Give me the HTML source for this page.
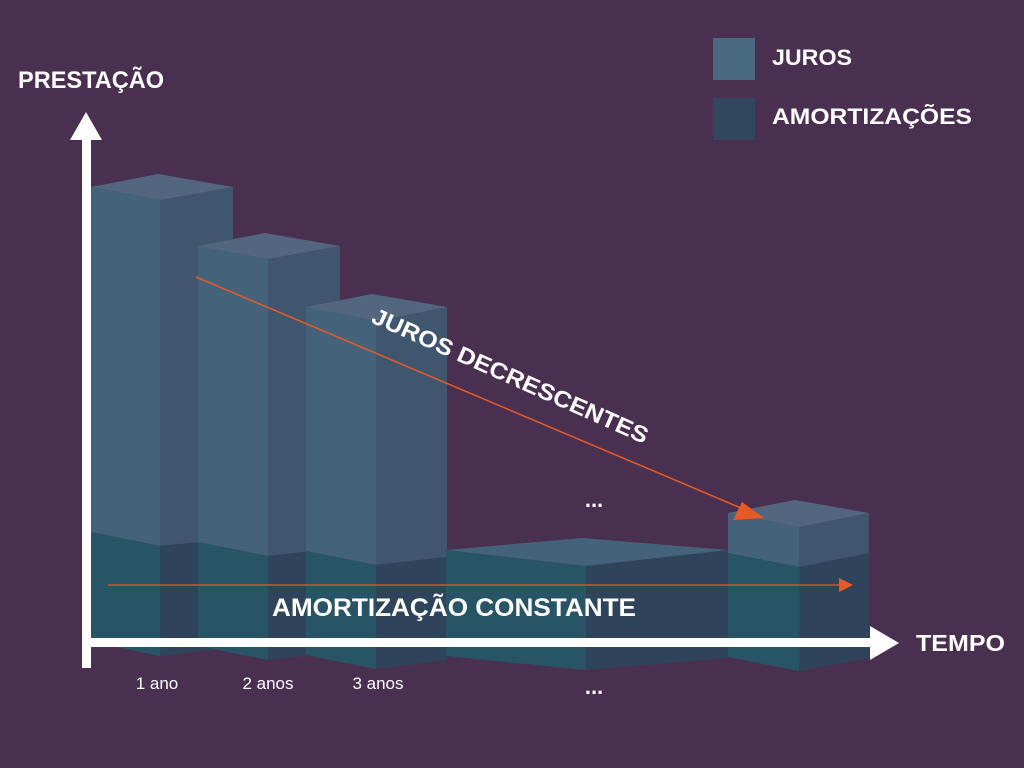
<!DOCTYPE html>
<html><head><meta charset="utf-8"><style>
html,body{margin:0;padding:0;background:#4a3050;}
svg{display:block;}
text{font-family:"Liberation Sans",sans-serif;fill:#fff;}
</style></head><body>
<svg width="1024" height="768" viewBox="0 0 1024 768" xmlns="http://www.w3.org/2000/svg">
<rect width="1024" height="768" fill="#4a3050"/>
<g>
<polygon points="91,187 160,200 160,546 91,532" fill="#44627a"/>
<polygon points="160,200 233,187 233,539 160,546" fill="#40566e"/>
<polygon points="91,187 158,174 233,187 160,200" fill="#526680"/>
<polygon points="91,532 160,546 160,656 91,642" fill="#285565"/>
<polygon points="160,546 233,539 233,648 160,656" fill="#2f445a"/>
</g>
<g>
<polygon points="198,246 268,259 268,556 198,542" fill="#44627a"/>
<polygon points="268,259 340,246 340,548 268,556" fill="#40566e"/>
<polygon points="198,246 265,233 340,246 268,259" fill="#526680"/>
<polygon points="198,542 268,556 268,660 198,646" fill="#285565"/>
<polygon points="268,556 340,548 340,652 268,660" fill="#2f445a"/>
</g>
<g>
<polygon points="306,307 376,321 376,565 306,551" fill="#44627a"/>
<polygon points="376,321 447,307 447,557 376,565" fill="#40566e"/>
<polygon points="306,307 372,294 447,307 376,321" fill="#526680"/>
<polygon points="306,551 376,565 376,669 306,655" fill="#285565"/>
<polygon points="376,565 447,557 447,660 376,669" fill="#2f445a"/>
</g>
<g>
<polygon points="446,550 586,566 586,670 446,656" fill="#285565"/>
<polygon points="586,566 728,550 728,658 586,670" fill="#2f445a"/>
<polygon points="446,550 582,538 728,550 586,566" fill="#44627a"/>
</g>
<g>
<polygon points="728,513 799,527 799,567 728,553" fill="#44627a"/>
<polygon points="799,527 869,513 869,553 799,567" fill="#40566e"/>
<polygon points="728,513 795,500 869,513 799,527" fill="#526680"/>
<polygon points="728,553 799,567 799,671 728,657" fill="#285565"/>
<polygon points="799,567 869,553 869,658 799,671" fill="#2f445a"/>
</g>
<line x1="196" y1="277" x2="748" y2="511" stroke="#e85a24" stroke-width="1.5"/>
<polygon points="764,518 742,502 733,520" fill="#e85a24"/>
<line x1="108" y1="585" x2="840" y2="585" stroke="#e85a24" stroke-width="1.2"/>
<polygon points="853,585 839,578 839,592" fill="#e85a24"/>
<rect x="82" y="136" width="9" height="532" fill="#fff"/>
<polygon points="86,112 70,140 102,140" fill="#fff"/>
<rect x="86" y="638" width="788" height="9" fill="#fff"/>
<polygon points="899,643 870,626 870,660" fill="#fff"/>
<text x="18" y="88" font-size="24" font-weight="bold" textLength="146" lengthAdjust="spacingAndGlyphs">PRESTAÇÃO</text>
<text x="916" y="651" font-size="23" font-weight="bold" textLength="89" lengthAdjust="spacingAndGlyphs">TEMPO</text>
<rect x="713" y="38" width="42" height="42" fill="#4a6a82"/>
<rect x="713" y="98" width="42" height="42" fill="#30475e"/>
<text x="772" y="65" font-size="22" font-weight="bold" textLength="80" lengthAdjust="spacingAndGlyphs">JUROS</text>
<text x="772" y="124" font-size="22" font-weight="bold" textLength="200" lengthAdjust="spacingAndGlyphs">AMORTIZAÇÕES</text>
<text transform="translate(370,322) rotate(24)" font-size="23" font-weight="bold" textLength="300" lengthAdjust="spacingAndGlyphs">JUROS DECRESCENTES</text>
<text x="272" y="616" font-size="25" font-weight="bold" textLength="364" lengthAdjust="spacingAndGlyphs">AMORTIZAÇÃO CONSTANTE</text>
<text x="157" y="689" font-size="17" text-anchor="middle">1 ano</text>
<text x="268" y="689" font-size="17" text-anchor="middle">2 anos</text>
<text x="378" y="689" font-size="17" text-anchor="middle">3 anos</text>
<text x="594" y="507" font-size="22" font-weight="bold" text-anchor="middle">...</text>
<text x="594" y="694" font-size="22" font-weight="bold" text-anchor="middle">...</text>
</svg>
</body></html>
